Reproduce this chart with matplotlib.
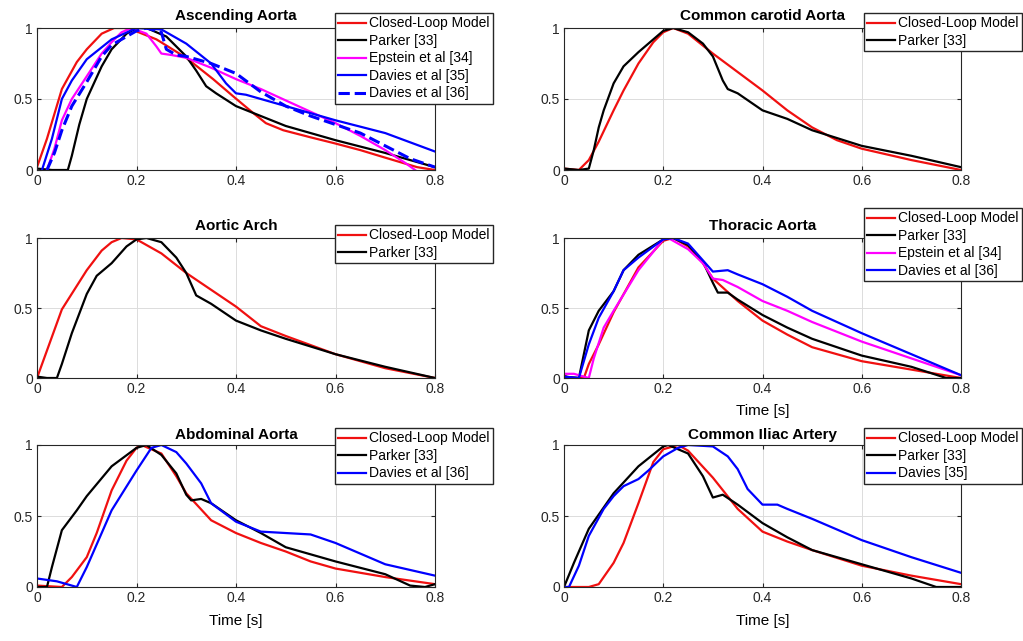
import matplotlib
matplotlib.use("Agg")
import matplotlib.pyplot as plt

plt.rcParams['font.family'] = ['Liberation Sans', 'DejaVu Sans']

# ---- Ascending Aorta ----
asc_model_t = [0, 0.02, 0.05, 0.08, 0.1, 0.13, 0.155, 0.175, 0.19, 0.24, 0.30, 0.354, 0.394, 0.435, 0.46, 0.495, 0.55, 0.596, 0.65, 0.697, 0.764, 0.8]
asc_model = [0.02, 0.22, 0.57, 0.76, 0.85, 0.96, 1.0, 1.0, 0.99, 0.92, 0.79, 0.64, 0.52, 0.40, 0.33, 0.28, 0.23, 0.19, 0.14, 0.09, 0.02, 0.0]
asc_parker_t = [0, 0.03, 0.062, 0.07, 0.085, 0.1, 0.13, 0.15, 0.18, 0.2, 0.22, 0.26, 0.3, 0.32, 0.34, 0.36, 0.4, 0.45, 0.5, 0.6, 0.7, 0.75, 0.8]
asc_parker = [0.01, 0.0, 0.0, 0.1, 0.32, 0.5, 0.73, 0.85, 0.96, 1.0, 1.0, 0.94, 0.80, 0.70, 0.59, 0.54, 0.45, 0.38, 0.31, 0.21, 0.12, 0.07, 0.02]
asc_epstein_t = [0.02, 0.035, 0.05, 0.07, 0.1, 0.13, 0.15, 0.17, 0.19, 0.22, 0.24, 0.25, 0.27, 0.3, 0.35, 0.4, 0.45, 0.5, 0.55, 0.6, 0.65, 0.7, 0.74, 0.76]
asc_epstein = [0.0, 0.15, 0.35, 0.5, 0.66, 0.82, 0.9, 0.97, 1.0, 0.96, 0.87, 0.82, 0.81, 0.79, 0.72, 0.64, 0.57, 0.49, 0.41, 0.33, 0.24, 0.14, 0.05, 0.0]
asc_davies35_t = [0.01, 0.03, 0.05, 0.07, 0.1, 0.15, 0.2, 0.25, 0.3, 0.35, 0.38, 0.4, 0.42, 0.5, 0.6, 0.7, 0.8]
asc_davies35 = [0.0, 0.22, 0.5, 0.63, 0.78, 0.92, 1.0, 0.99, 0.89, 0.75, 0.61, 0.54, 0.53, 0.45, 0.35, 0.26, 0.13]
asc_davies36_t = [0.02, 0.035, 0.05, 0.07, 0.1, 0.13, 0.15, 0.2, 0.22, 0.25, 0.26, 0.28, 0.3, 0.35, 0.4, 0.45, 0.5, 0.55, 0.6, 0.65, 0.7, 0.75, 0.8]
asc_davies36 = [0.0, 0.12, 0.28, 0.45, 0.62, 0.8, 0.88, 0.98, 1.0, 0.97, 0.85, 0.81, 0.8, 0.75, 0.68, 0.55, 0.45, 0.38, 0.32, 0.26, 0.17, 0.08, 0.02]

# ---- Common carotid ----
car_model_t = [0, 0.03, 0.05, 0.07, 0.1, 0.12, 0.15, 0.18, 0.2, 0.22, 0.25, 0.3, 0.35, 0.4, 0.45, 0.5, 0.55, 0.6, 0.7, 0.8]
car_model = [0.01, 0.0, 0.07, 0.2, 0.42, 0.56, 0.75, 0.9, 0.97, 1.0, 0.96, 0.82, 0.69, 0.56, 0.42, 0.30, 0.21, 0.15, 0.07, 0.0]
car_parker_t = [0, 0.03, 0.05, 0.06, 0.07, 0.08, 0.1, 0.12, 0.15, 0.2, 0.22, 0.25, 0.28, 0.3, 0.32, 0.33, 0.35, 0.4, 0.45, 0.5, 0.6, 0.7, 0.75, 0.8]
car_parker = [0.01, 0.0, 0.01, 0.14, 0.3, 0.42, 0.61, 0.73, 0.83, 0.98, 1.0, 0.97, 0.89, 0.80, 0.63, 0.57, 0.54, 0.42, 0.36, 0.28, 0.17, 0.1, 0.06, 0.02]

# ---- Aortic arch ----
arch_model_t = [0, 0.05, 0.1, 0.13, 0.15, 0.17, 0.2, 0.25, 0.3, 0.35, 0.4, 0.45, 0.5, 0.6, 0.7, 0.8]
arch_model = [0.0, 0.49, 0.77, 0.91, 0.97, 1.0, 0.99, 0.89, 0.75, 0.63, 0.51, 0.37, 0.30, 0.17, 0.07, 0.0]
arch_parker_t = [0, 0.02, 0.04, 0.05, 0.07, 0.1, 0.12, 0.15, 0.18, 0.2, 0.22, 0.25, 0.28, 0.3, 0.32, 0.35, 0.4, 0.45, 0.5, 0.6, 0.7, 0.8]
arch_parker = [0.01, 0.0, 0.0, 0.1, 0.32, 0.6, 0.73, 0.82, 0.94, 0.99, 1.0, 0.97, 0.86, 0.75, 0.59, 0.53, 0.41, 0.34, 0.28, 0.17, 0.08, 0.0]

# ---- Thoracic aorta ----
tho_model_t = [0, 0.01, 0.04, 0.05, 0.07, 0.1, 0.15, 0.2, 0.22, 0.25, 0.28, 0.3, 0.35, 0.4, 0.45, 0.5, 0.6, 0.7, 0.8]
tho_model = [0.02, 0.0, 0.0, 0.1, 0.24, 0.47, 0.79, 0.98, 1.0, 0.94, 0.82, 0.71, 0.55, 0.41, 0.31, 0.22, 0.12, 0.06, 0.0]
tho_parker_t = [0, 0.03, 0.05, 0.07, 0.1, 0.12, 0.15, 0.2, 0.22, 0.25, 0.28, 0.3, 0.31, 0.33, 0.35, 0.4, 0.45, 0.5, 0.6, 0.7, 0.77, 0.8]
tho_parker = [0.01, 0.0, 0.34, 0.48, 0.62, 0.77, 0.88, 0.99, 1.0, 0.95, 0.83, 0.68, 0.61, 0.61, 0.56, 0.45, 0.36, 0.28, 0.16, 0.08, 0.0, 0.0]
tho_epstein_t = [0, 0.02, 0.05, 0.06, 0.08, 0.1, 0.15, 0.2, 0.21, 0.25, 0.28, 0.3, 0.32, 0.35, 0.4, 0.45, 0.5, 0.6, 0.7, 0.8]
tho_epstein = [0.03, 0.03, 0.0, 0.14, 0.36, 0.48, 0.77, 0.99, 1.0, 0.92, 0.82, 0.71, 0.70, 0.65, 0.55, 0.48, 0.40, 0.26, 0.14, 0.02]
tho_davies_t = [0, 0.03, 0.05, 0.07, 0.1, 0.12, 0.15, 0.2, 0.22, 0.25, 0.28, 0.3, 0.33, 0.35, 0.4, 0.45, 0.5, 0.6, 0.7, 0.8]
tho_davies = [0.01, 0.0, 0.24, 0.43, 0.62, 0.77, 0.86, 0.99, 1.0, 0.96, 0.84, 0.76, 0.77, 0.74, 0.67, 0.58, 0.48, 0.32, 0.17, 0.02]

# ---- Abdominal aorta ----
abd_model_t = [0, 0.05, 0.07, 0.1, 0.12, 0.15, 0.18, 0.2, 0.21, 0.25, 0.28, 0.3, 0.35, 0.4, 0.45, 0.5, 0.55, 0.6, 0.7, 0.8]
abd_model = [0.01, 0.0, 0.07, 0.21, 0.38, 0.68, 0.89, 0.98, 1.0, 0.94, 0.78, 0.66, 0.47, 0.38, 0.31, 0.25, 0.18, 0.13, 0.07, 0.02]
abd_parker_t = [0, 0.02, 0.03, 0.05, 0.08, 0.1, 0.15, 0.2, 0.22, 0.25, 0.28, 0.3, 0.31, 0.33, 0.35, 0.4, 0.45, 0.5, 0.6, 0.7, 0.75, 0.78, 0.8]
abd_parker = [0.0, 0.0, 0.14, 0.4, 0.54, 0.64, 0.85, 0.98, 1.0, 0.93, 0.80, 0.65, 0.61, 0.62, 0.59, 0.47, 0.38, 0.28, 0.18, 0.09, 0.01, 0.0, 0.02]
abd_davies_t = [0, 0.04, 0.08, 0.1, 0.12, 0.15, 0.2, 0.23, 0.25, 0.28, 0.3, 0.33, 0.35, 0.4, 0.45, 0.5, 0.55, 0.6, 0.7, 0.8]
abd_davies = [0.06, 0.04, 0.0, 0.14, 0.3, 0.54, 0.82, 0.98, 1.0, 0.95, 0.87, 0.73, 0.59, 0.46, 0.39, 0.38, 0.37, 0.31, 0.16, 0.08]

# ---- Common iliac artery ----
ili_model_t = [0, 0.05, 0.07, 0.1, 0.12, 0.15, 0.18, 0.2, 0.23, 0.25, 0.3, 0.35, 0.4, 0.45, 0.5, 0.6, 0.7, 0.8]
ili_model = [0.0, 0.0, 0.02, 0.17, 0.31, 0.59, 0.88, 0.97, 1.0, 0.96, 0.77, 0.55, 0.39, 0.32, 0.26, 0.15, 0.08, 0.02]
ili_parker_t = [0, 0.02, 0.05, 0.1, 0.15, 0.2, 0.21, 0.25, 0.28, 0.3, 0.32, 0.35, 0.4, 0.45, 0.5, 0.6, 0.7, 0.75, 0.8]
ili_parker = [0.0, 0.17, 0.41, 0.66, 0.85, 0.99, 1.0, 0.94, 0.78, 0.63, 0.65, 0.58, 0.45, 0.35, 0.26, 0.16, 0.06, 0.0, 0.0]
ili_davies_t = [0, 0.01, 0.03, 0.05, 0.08, 0.1, 0.12, 0.15, 0.17, 0.2, 0.23, 0.25, 0.3, 0.33, 0.35, 0.37, 0.4, 0.43, 0.45, 0.5, 0.6, 0.7, 0.8]
ili_davies = [0.0, 0.0, 0.15, 0.36, 0.55, 0.64, 0.71, 0.76, 0.82, 0.92, 0.98, 1.0, 0.99, 0.92, 0.83, 0.69, 0.58, 0.58, 0.55, 0.48, 0.33, 0.21, 0.10]

xticks = [0, 0.2, 0.4, 0.6, 0.8]
xticklabels = ['0', '0.2', '0.4', '0.6', '0.8']
yticks = [0, 0.5, 1]
yticklabels = ['0', '0.5', '1']

RED = '#f01010'
BLK = '#000000'
MAG = '#ff00ff'
BLU = '#0000ff'

W, H = 1023, 641
fig = plt.figure(figsize=(W / 100, H / 100), dpi=100)


def px_axes(left, top, right, bottom):
    return fig.add_axes([left / W, 1 - bottom / H, (right - left) / W, (bottom - top) / H])


def style(ax, title, xlabel=None, tpad=6):
    ax.set_xlim(0, 0.8)
    ax.set_ylim(0, 1)
    ax.set_xticks(xticks)
    ax.set_xticklabels(xticklabels)
    ax.set_yticks(yticks)
    ax.set_yticklabels(yticklabels)
    ax.grid(True, color='#dcdcdc', linewidth=0.7)
    ax.set_axisbelow(True)
    ax.tick_params(direction='in', top=True, right=True, length=3,
                   labelsize=10, colors='#262626', pad=3)
    for s in ax.spines.values():
        s.set_color('#262626')
        s.set_linewidth(0.8)
    ax.set_title(title, fontsize=11, fontweight='bold', pad=tpad)
    if xlabel:
        ax.set_xlabel(xlabel, fontsize=11, labelpad=6)


def legend(ax, x, y):
    ax.legend(loc='upper left', bbox_to_anchor=(x / W, 1 - y / H),
              bbox_transform=fig.transFigure, fontsize=10, frameon=True,
              fancybox=False, framealpha=1, edgecolor='#262626',
              borderpad=0.25, labelspacing=0.25, handlelength=2.0,
              handletextpad=0.2, borderaxespad=0)


lw = 1.6

ax1 = px_axes(37, 28, 435, 170)
ax1.plot(asc_model_t, asc_model, color=RED, lw=lw, label='Closed-Loop Model')
ax1.plot(asc_parker_t, asc_parker, color=BLK, lw=lw, label='Parker [33]')
ax1.plot(asc_epstein_t, asc_epstein, color=MAG, lw=lw, label='Epstein et al [34]')
ax1.plot(asc_davies35_t, asc_davies35, color=BLU, lw=lw, label='Davies et al [35]')
ax1.plot(asc_davies36_t, asc_davies36, color=BLU, lw=2.2, ls='--', label='Davies et al [36]')
style(ax1, 'Ascending Aorta')
legend(ax1, 335, 13)

ax2 = px_axes(564, 28, 961, 170)
ax2.plot(car_model_t, car_model, color=RED, lw=lw, label='Closed-Loop Model')
ax2.plot(car_parker_t, car_parker, color=BLK, lw=lw, label='Parker [33]')
style(ax2, 'Common carotid Aorta')
legend(ax2, 864, 13)

ax3 = px_axes(37, 238, 435, 378)
ax3.plot(arch_model_t, arch_model, color=RED, lw=lw, label='Closed-Loop Model')
ax3.plot(arch_parker_t, arch_parker, color=BLK, lw=lw, label='Parker [33]')
style(ax3, 'Aortic Arch')
legend(ax3, 335, 225)

ax4 = px_axes(564, 238, 961, 378)
ax4.plot(tho_model_t, tho_model, color=RED, lw=lw, label='Closed-Loop Model')
ax4.plot(tho_parker_t, tho_parker, color=BLK, lw=lw, label='Parker [33]')
ax4.plot(tho_epstein_t, tho_epstein, color=MAG, lw=lw, label='Epstein et al [34]')
ax4.plot(tho_davies_t, tho_davies, color=BLU, lw=lw, label='Davies et al [36]')
style(ax4, 'Thoracic Aorta', 'Time [s]')
legend(ax4, 864, 208)

ax5 = px_axes(37, 445, 435, 587)
ax5.plot(abd_model_t, abd_model, color=RED, lw=lw, label='Closed-Loop Model')
ax5.plot(abd_parker_t, abd_parker, color=BLK, lw=lw, label='Parker [33]')
ax5.plot(abd_davies_t, abd_davies, color=BLU, lw=lw, label='Davies et al [36]')
style(ax5, 'Abdominal Aorta', 'Time [s]', tpad=4)
legend(ax5, 335, 428)

ax6 = px_axes(564, 445, 961, 587)
ax6.plot(ili_model_t, ili_model, color=RED, lw=lw, label='Closed-Loop Model')
ax6.plot(ili_parker_t, ili_parker, color=BLK, lw=lw, label='Parker [33]')
ax6.plot(ili_davies_t, ili_davies, color=BLU, lw=lw, label='Davies [35]')
style(ax6, 'Common Iliac Artery', 'Time [s]', tpad=4)
legend(ax6, 864, 428)

fig.savefig('out.png', dpi=100)
